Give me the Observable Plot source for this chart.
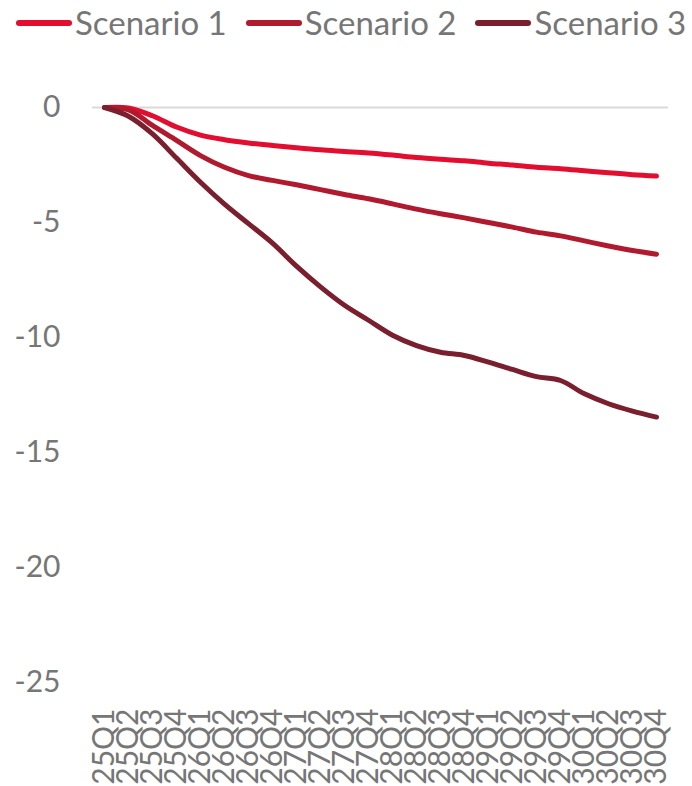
<!DOCTYPE html>
<html>
<head>
<meta charset="utf-8">
<script src="https://cdn.jsdelivr.net/npm/d3@7"></script>
<script src="https://cdn.jsdelivr.net/npm/@observablehq/plot@0.6"></script>
<style>
  html, body { margin: 0; padding: 0; background: #fff; }
  body { width: 692px; height: 786px; overflow: hidden; font-family: Lato, "Open Sans", sans-serif; }
  #legend { height: 45px; display: flex; align-items: center; padding-left: 16px; box-sizing: border-box; }
  .item { display: flex; align-items: center; margin-right: 19px; }
  .sw { width: 56px; height: 6px; border-radius: 3px; margin-right: 3px; }
  .lab { font-size: 33px; color: #767676; line-height: 1; white-space: nowrap; }
</style>
</head>
<body>
<div id="legend"></div>
<div id="chart"></div>
<script>
const quarters = ["25Q1","25Q2","25Q3","25Q4","26Q1","26Q2","26Q3","26Q4","27Q1","27Q2","27Q3","27Q4","28Q1","28Q2","28Q3","28Q4","29Q1","29Q2","29Q3","29Q4","30Q1","30Q2","30Q3","30Q4"];
const seriesNames = ["Scenario 1", "Scenario 2", "Scenario 3"];
const scenario1 = [0, -0.02, -0.36, -0.85, -1.2, -1.4, -1.54, -1.65, -1.75, -1.84, -1.91, -1.98, -2.07, -2.17, -2.25, -2.32, -2.42, -2.5, -2.6, -2.66, -2.75, -2.84, -2.92, -2.98];
const scenario2 = [0, -0.1, -0.78, -1.43, -2.09, -2.6, -2.96, -3.17, -3.36, -3.57, -3.78, -3.97, -4.19, -4.42, -4.62, -4.8, -5.0, -5.2, -5.42, -5.58, -5.8, -6.02, -6.22, -6.38];
const scenario3 = [0, -0.38, -1.15, -2.2, -3.25, -4.2, -5.05, -5.9, -6.9, -7.8, -8.6, -9.25, -9.9, -10.35, -10.64, -10.78, -11.07, -11.39, -11.7, -11.87, -12.45, -12.88, -13.2, -13.46];
const colors = ["#E30D2F", "#B0192E", "#7A1F2D"];
const yTicks = [0, -5, -10, -15, -20, -25];

const data = [];
[scenario1, scenario2, scenario3].forEach((vals, i) =>
  vals.forEach((v, j) => data.push({ q: quarters[j], v, s: seriesNames[i] }))
);

const legend = document.getElementById("legend");
seriesNames.forEach((name, i) => {
  const it = document.createElement("div");
  it.className = "item";
  const sw = document.createElement("div");
  sw.className = "sw";
  sw.style.background = colors[i];
  const lab = document.createElement("span");
  lab.className = "lab";
  lab.textContent = name;
  it.appendChild(sw);
  it.appendChild(lab);
  legend.appendChild(it);
});

const chart = Plot.plot({
  width: 692,
  height: 741,
  marginLeft: 92,
  marginRight: 24,
  marginTop: 62,
  marginBottom: 104,
  style: { fontFamily: "Lato, 'Open Sans', sans-serif", fontSize: "30px", color: "#767676", background: "white", overflow: "visible" },
  x: { type: "point", domain: quarters, padding: 0.45, tickSize: 0, tickRotate: -90, tickPadding: 26, label: null },
  y: { domain: [-25, 0], ticks: yTicks, tickSize: 0, tickPadding: 32, label: null, tickFormat: d => String(d) },
  color: { domain: seriesNames, range: colors },
  marks: [
    Plot.ruleY([0], { stroke: "#d9d9d9", strokeWidth: 2 }),
    Plot.line(data, { x: "q", y: "v", stroke: "s", z: "s", strokeWidth: 5, curve: "catmull-rom", strokeLinecap: "round", strokeLinejoin: "round" })
  ]
});
document.getElementById("chart").appendChild(chart);
</script>
</body>
</html>
